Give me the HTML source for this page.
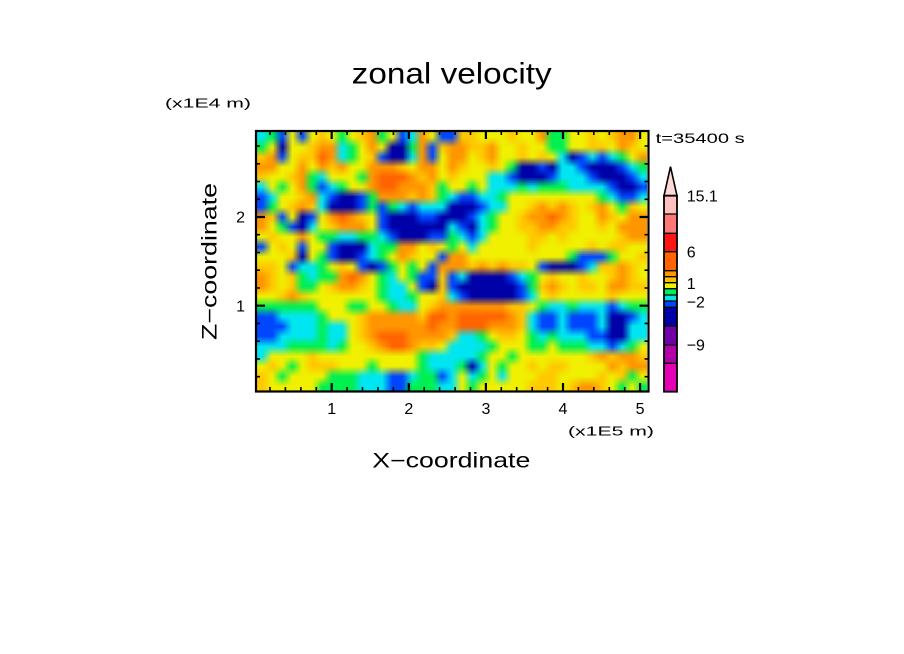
<!DOCTYPE html>
<html><head><meta charset="utf-8">
<style>
html,body{margin:0;padding:0;background:#fff;}
#wrap{position:relative;width:904px;height:654px;overflow:hidden;background:#fff;}
#fld{position:absolute;left:257px;top:132px;width:390px;height:259px;}
svg{position:absolute;left:0;top:0;}
text{font-family:"Liberation Sans",sans-serif;fill:#000;}
</style></head><body>
<div id="wrap">
<canvas id="fld" width="39" height="26"></canvas>
<svg width="904" height="654" viewBox="0 0 904 654" xmlns="http://www.w3.org/2000/svg">
  <!-- frame -->
  <rect x="256" y="131" width="392.5" height="260.5" fill="none" stroke="#000" stroke-width="2.2"/>
  <path id="ticks" d="" fill="none" stroke="#000" stroke-width="1.6"/>
  <path id="mticks" d="" fill="none" stroke="#000" stroke-width="2.2"/>

  <!-- title & labels -->
  <text x="351.7" y="83.3" font-size="30" textLength="200" lengthAdjust="spacingAndGlyphs">zonal velocity</text>
  <text x="165" y="107.5" font-size="13" textLength="86" lengthAdjust="spacingAndGlyphs">(x1E4 m)</text>
  <text x="655.7" y="143" font-size="14" textLength="89" lengthAdjust="spacingAndGlyphs">t=35400 s</text>
  <text x="568" y="435.5" font-size="13" textLength="86" lengthAdjust="spacingAndGlyphs">(x1E5 m)</text>
  <text x="372.3" y="467.3" font-size="21" textLength="158" lengthAdjust="spacingAndGlyphs">X&#8722;coordinate</text>
  <text transform="translate(216.5,340) rotate(-90)" x="0" y="0" font-size="21" textLength="157" lengthAdjust="spacingAndGlyphs">Z&#8722;coordinate</text>

  <!-- x tick labels -->
  <g font-size="16" text-anchor="middle">
    <text x="331.7" y="414">1</text>
    <text x="408.8" y="414">2</text>
    <text x="485.9" y="414">3</text>
    <text x="563" y="414">4</text>
    <text x="640.1" y="414">5</text>
  </g>
  <!-- y tick labels -->
  <g font-size="16" text-anchor="end">
    <text x="245" y="222.5">2</text>
    <text x="245" y="311.5">1</text>
  </g>

  <!-- colorbar -->
  <path d="M664,195.7 L670.5,166.7 L677,195.7 Z" fill="#ffd8d8" stroke="#000" stroke-width="1.6"/>
  <rect x="664" y="195.7" width="13" height="18.3" fill="#ffc0c0"/>
  <rect x="664" y="214" width="13" height="19.3" fill="#ff7878"/>
  <rect x="664" y="233.3" width="13" height="18.4" fill="#ff1414"/>
  <rect x="664" y="251.7" width="13" height="19" fill="#ff6400"/>
  <rect x="664" y="270.7" width="13" height="6" fill="#ff9600"/>
  <rect x="664" y="276.7" width="13" height="6" fill="#ffc000"/>
  <rect x="664" y="282.7" width="13" height="6" fill="#f0f000"/>
  <rect x="664" y="288.7" width="13" height="6.3" fill="#00f050"/>
  <rect x="664" y="295" width="13" height="6" fill="#00e6e6"/>
  <rect x="664" y="301" width="13" height="6.3" fill="#0046ff"/>
  <rect x="664" y="307.3" width="13" height="18.7" fill="#0000a8"/>
  <rect x="664" y="326" width="13" height="19" fill="#7000a8"/>
  <rect x="664" y="345" width="13" height="18.3" fill="#b000a8"/>
  <rect x="664" y="363.3" width="13" height="28.4" fill="#e600b4"/>
  <path d="M664,214H677M664,233.3H677M664,251.7H677M664,270.7H677M664,276.7H677M664,282.7H677M664,288.7H677M664,295H677M664,301H677M664,307.3H677M664,326H677M664,345H677M664,363.3H677" stroke="#000" stroke-width="1.3" fill="none"/>
  <rect x="664" y="195.7" width="13" height="196" fill="none" stroke="#000" stroke-width="1.8"/>
  <g font-size="16">
    <text x="686.7" y="201.7">15.1</text>
    <text x="686.7" y="257.7">6</text>
    <text x="686.7" y="289">1</text>
    <text x="686.7" y="307.7">&#8722;2</text>
    <text x="686.7" y="350.7">&#8722;9</text>
  </g>
</svg>
</div>
<script>
(function(){
  var rows = [
"CGBYBYLYGYLOGYBCOYB"+"BLLYYYLYYOGGYYLYLOOY",
"GYDYYLOOCGYOYDDGOBL"+"OOLLOYYLYYGGYYLLYOLY",
"LOBYLLROCGYLBDDCOBY"+"OOYLOYYLYLYCDBCBCGYO",
"OOYYOYOLOYYOOOLYOOY"+"OLYYLYGDDBDCCBDDDBCG",
"LYYLOGCYYYGORRROLOY"+"LYYYCCBDDDBCCCBDDDBC",
"CYGYOGBCGYYORROOOLG"+"YYGYCCCGCGGGCCCCBDDB",
"BCYYLOCBDDBGOOOLOLG"+"CBBCCGYYYYYYYYYGCBBC",
"BGYLOLCDDDBGBGCBCCC"+"DDDBCCYYLOLOLYLOYGLY",
"OLBYDBYOROLYBDDDBBD"+"DDBCGYYLOOROLYYOLYOO",
"OYGBDCYLOOOYBDDDDDD"+"CBDCGYYLLOOLLYYLYOOO",
"YLYYOYGGCCGGCBDDDBB"+"GCBCYYYYLLYLYYYYYLOO",
"BYLYBYYBDDDCGGOOYLY"+"GYCYYYYYLYYYYYLYLLYY",
"YYYLDYGBDDBCGYOLYYB"+"OOYYYYYYYYYYGBBBGYYL",
"LLYBCCGYLYBDBGYGYBO"+"OOLOLOLLYBDDDBCLLOLY",
"OLYLGCGGOROYGCYGBBL"+"BCDDDDBCGYLYYLYYLOLY",
"OLYLGGYLOOLYGCCYBDL"+"BDDDDDDBGLOLYLLYOOLL",
"YYLOLYYYYYYYGCCGYYL"+"CBDDDDDBCYLYYYYYLYYY",
"GGGGGGYYYGGYYGCCYLO"+"OOOOOOLLYGCCGCCCBCGG",
"BBCCCCGYYYLOOOOOLRR"+"ORRRRROLCBBCBBBCDDBC",
"BBBCCCGCCYLOOOOOORO"+"ORRROOOLCBBCBBBCDDCC",
"BBCCCCGCCYLORRROOOO"+"LCCGYLLYGCGCCCBBDDCC",
"CCCGGGGCGYYLORROLLY"+"CCCCGYYYGGYGGGCCBCGY",
"CYYYYLYYYYYYYYYYGCC"+"CCCGYYGYYYYYYYLOLOOL",
"YLYGYLLLYYYGYYYYGCC"+"CGDCYGYYLYLLYYYYOLOO",
"LYGYYYYGGGCCCBBCGGB"+"CYCGYCYYYLLYYYYLYLGY",
"LYYYYYGGGGCCCBBGGGC"+"CYGYYYYYLLLYLOOLYGYG"
  ];
  var pal = {Y:[240,240,0],L:[255,200,0],O:[255,150,0],R:[255,100,0],
             G:[0,240,80],C:[0,230,240],B:[0,70,255],D:[0,0,168]};
  var cv = document.getElementById('fld');
  var ctx = cv.getContext('2d');
  var W = 39, H = 26;
  var img = ctx.createImageData(W, H);
  for (var r = 0; r < H; r++) {
    var s = rows[r] || "";
    for (var c = 0; c < W; c++) {
      var col = pal[s.charAt(c)] || pal.Y;
      var i = (r * W + c) * 4;
      img.data[i] = col[0]; img.data[i+1] = col[1]; img.data[i+2] = col[2]; img.data[i+3] = 255;
    }
  }
  ctx.putImageData(img, 0, 0);

  // ticks
  var d = "", dm = "";
  for (var k = 1; k <= 25; k++) {
    var x = (254.6 + 15.42 * k).toFixed(1);
    var major = (k % 5 === 0);
    var L = major ? 8 : 4;
    var seg = "M" + x + ",391V" + (391 - L) + "M" + x + ",131V" + (131 + L);
    if (major) dm += seg; else d += seg;
  }
  for (var k2 = 1; k2 <= 14; k2++) {
    var y = (394.4 - 17.74 * k2).toFixed(1);
    var major2 = (k2 % 5 === 0);
    var L2 = major2 ? 9 : 4;
    var seg2 = "M256," + y + "H" + (256 + L2) + "M648.5," + y + "H" + (648.5 - L2);
    if (major2) dm += seg2; else d += seg2;
  }
  document.getElementById('ticks').setAttribute('d', d);
  document.getElementById('mticks').setAttribute('d', dm);
})();
</script>
</body></html>
